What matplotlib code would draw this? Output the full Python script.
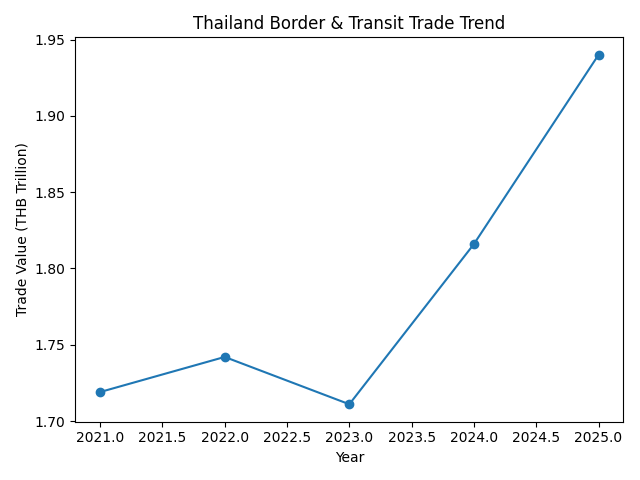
import matplotlib
matplotlib.use("Agg")
import matplotlib.pyplot as plt

# Trade values
years = [2021, 2022, 2023, 2024, 2025]
trade_values = [1.719, 1.742, 1.711, 1.816, 1.940]

fig, ax = plt.subplots(figsize=(6.4, 4.8), dpi=100)
ax.plot(years, trade_values, marker="o")
ax.set_title("Thailand Border & Transit Trade Trend")
ax.set_xlabel("Year")
ax.set_ylabel("Trade Value (THB Trillion)")
fig.tight_layout()
fig.savefig("out.png")
